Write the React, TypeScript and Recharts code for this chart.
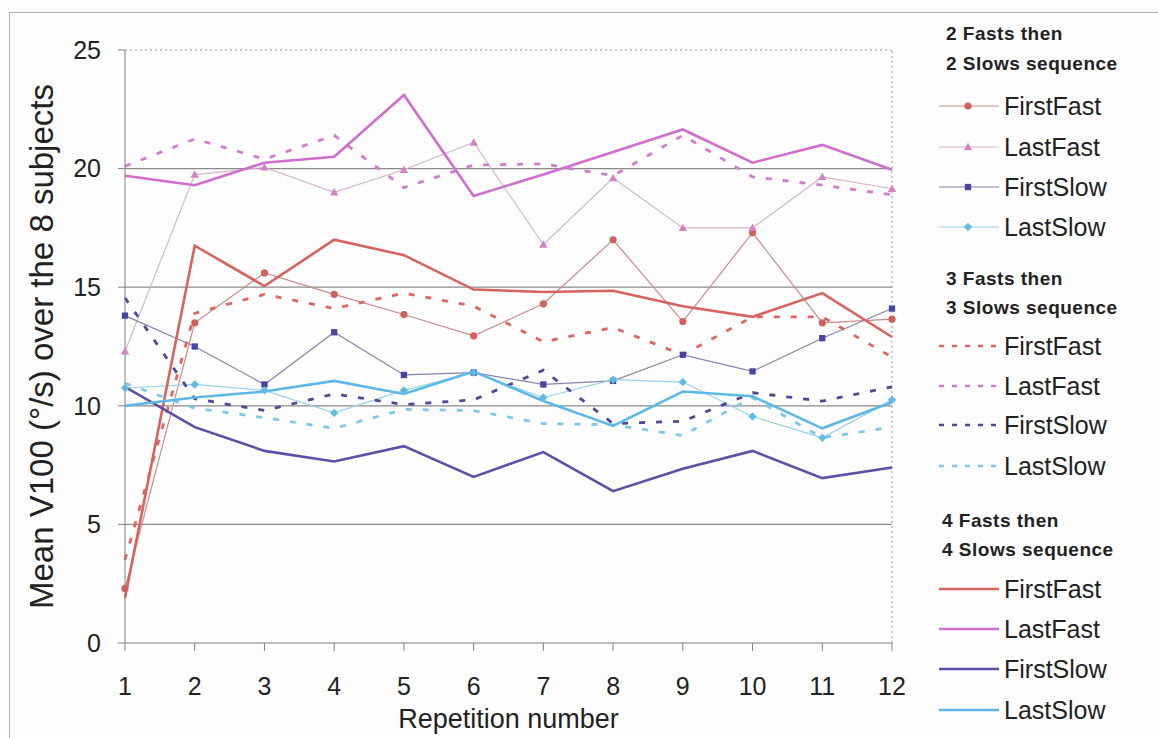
import React from 'react';
import { LineChart, Line, XAxis, YAxis, ReferenceLine, Legend, Label } from 'recharts';

// Repetition numbers on the x axis
const repetitions = [1, 2, 3, 4, 5, 6, 7, 8, 9, 10, 11, 12];

// 2 Fasts then 2 Slows sequence
const firstFast2 = [2.3, 13.5, 15.6, 14.7, 13.85, 12.95, 14.3, 17.0, 13.55, 17.3, 13.5, 13.65];
const lastFast2 = [12.3, 19.75, 20.05, 19.0, 19.95, 21.1, 16.8, 19.6, 17.5, 17.5, 19.65, 19.15];
const firstSlow2 = [13.8, 12.5, 10.9, 13.1, 11.3, 11.4, 10.9, 11.05, 12.15, 11.45, 12.85, 14.1];
const lastSlow2 = [10.75, 10.9, 10.65, 9.7, 10.65, 11.4, 10.35, 11.1, 11.0, 9.55, 8.65, 10.25];

// 3 Fasts then 3 Slows sequence
const firstFast3 = [3.5, 13.9, 14.7, 14.1, 14.75, 14.2, 12.7, 13.3, 12.15, 13.75, 13.75, 12.05];
const lastFast3 = [20.1, 21.25, 20.4, 21.4, 19.2, 20.15, 20.2, 19.7, 21.4, 19.65, 19.3, 18.9];
const firstSlow3 = [14.55, 10.3, 9.8, 10.5, 10.05, 10.25, 11.5, 9.25, 9.35, 10.55, 10.2, 10.8];
const lastSlow3 = [10.95, 9.9, 9.5, 9.05, 9.85, 9.8, 9.25, 9.2, 8.75, 10.35, 8.65, 9.1];

// 4 Fasts then 4 Slows sequence
const firstFast4 = [1.9, 16.75, 15.05, 17.0, 16.35, 14.9, 14.8, 14.85, 14.2, 13.75, 14.75, 12.9];
const lastFast4 = [19.7, 19.3, 20.25, 20.5, 23.1, 18.85, 19.75, 20.7, 21.65, 20.25, 21.0, 19.95];
const firstSlow4 = [10.8, 9.1, 8.1, 7.65, 8.3, 7.0, 8.05, 6.4, 7.35, 8.1, 6.95, 7.4];
const lastSlow4 = [10.0, 10.35, 10.6, 11.05, 10.5, 11.45, 10.2, 9.15, 10.6, 10.4, 9.05, 10.15];

const yTicks = [0, 5, 10, 15, 20, 25];
const gridValues = [5, 10, 15, 20];

const FONT = "'Liberation Sans', Arial, Helvetica, sans-serif";

type Marker = 'circle' | 'triangle' | 'square' | 'diamond' | null;

interface SeriesDef {
  key: string;
  name: string;
  values: number[];
  color: string;
  width: number;
  dash?: string;
  marker: Marker;
  markerColor?: string;
}

interface Group {
  title: [string, string];
  series: SeriesDef[];
}

const groups: Group[] = [
  {
    title: ['2 Fasts then', '2 Slows sequence'],
    series: [
      { key: 'ff2', name: 'FirstFast', values: firstFast2, color: '#cc8a8a', width: 1.2, marker: 'circle', markerColor: '#d0605a' },
      { key: 'lf2', name: 'LastFast', values: lastFast2, color: '#d8b4cc', width: 1.2, marker: 'triangle', markerColor: '#d482c4' },
      { key: 'fs2', name: 'FirstSlow', values: firstSlow2, color: '#8484b0', width: 1.2, marker: 'square', markerColor: '#4646a2' },
      { key: 'ls2', name: 'LastSlow', values: lastSlow2, color: '#98d2ea', width: 1.2, marker: 'diamond', markerColor: '#62bae4' },
    ],
  },
  {
    title: ['3 Fasts then', '3 Slows sequence'],
    series: [
      { key: 'ff3', name: 'FirstFast', values: firstFast3, color: '#de6660', width: 2.8, dash: '6 11', marker: null },
      { key: 'lf3', name: 'LastFast', values: lastFast3, color: '#d27ccf', width: 2.8, dash: '6 11', marker: null },
      { key: 'fs3', name: 'FirstSlow', values: firstSlow3, color: '#4c4a98', width: 2.8, dash: '6 11', marker: null },
      { key: 'ls3', name: 'LastSlow', values: lastSlow3, color: '#7cc8ec', width: 2.8, dash: '6 11', marker: null },
    ],
  },
  {
    title: ['4 Fasts then', '4 Slows sequence'],
    series: [
      { key: 'ff4', name: 'FirstFast', values: firstFast4, color: '#d8625c', width: 2.6, marker: null },
      { key: 'lf4', name: 'LastFast', values: lastFast4, color: '#d06ecf', width: 2.6, marker: null },
      { key: 'fs4', name: 'FirstSlow', values: firstSlow4, color: '#5a50a6', width: 2.6, marker: null },
      { key: 'ls4', name: 'LastSlow', values: lastSlow4, color: '#5eb8e6', width: 2.6, marker: null },
    ],
  },
];

const allSeries = groups.flatMap((g) => g.series);

const chartData = repetitions.map((rep, i) => {
  const row: Record<string, number> = { rep };
  allSeries.forEach((s) => {
    row[s.key] = s.values[i];
  });
  return row;
});

function markerPath(kind: Marker, cx: number, cy: number, s: number): string {
  switch (kind) {
    case 'triangle':
      return `M${cx},${cy - s}L${cx + s},${cy + s * 0.75}L${cx - s},${cy + s * 0.75}Z`;
    case 'square':
      return `M${cx - s * 0.75},${cy - s * 0.75}h${s * 1.5}v${s * 1.5}h${-s * 1.5}Z`;
    case 'diamond':
      return `M${cx},${cy - s}L${cx + s},${cy}L${cx},${cy + s}L${cx - s},${cy}Z`;
    default:
      return '';
  }
}

function MarkerGlyph({ kind, cx, cy, color }: { kind: Marker; cx: number; cy: number; color: string }) {
  if (!kind) return null;
  if (kind === 'circle') return <circle cx={cx} cy={cy} r={3.6} fill={color} />;
  return <path d={markerPath(kind, cx, cy, 4.2)} fill={color} />;
}

const makeDot = (s: SeriesDef) => (props: any) => {
  const { cx, cy, index } = props;
  if (cx == null || cy == null) return <g key={`${s.key}-${index}`} />;
  return (
    <g key={`${s.key}-${index}`}>
      <MarkerGlyph kind={s.marker} cx={cx} cy={cy} color={s.markerColor || s.color} />
    </g>
  );
};

// Row centres (px from the top of the chart) for the grouped legend
const titleRows = [
  [34, 64],
  [279, 308],
  [521, 550],
];
const itemRows = [
  [106, 147, 187, 227],
  [346, 386, 425, 466],
  [589, 629, 669, 710],
];
const titleLeft = [946, 946, 942];

function GroupedLegend() {
  const rowH = 30;
  return (
    <div style={{ position: 'absolute', left: 0, top: 0, width: 1158, height: 738, fontFamily: FONT }}>
      {groups.map((g, gi) => (
        <React.Fragment key={gi}>
          {g.title.map((t, ti) => (
            <div
              key={`t${ti}`}
              style={{
                position: 'absolute',
                left: titleLeft[gi],
                top: titleRows[gi][ti] - rowH / 2,
                height: rowH,
                lineHeight: `${rowH}px`,
                fontSize: 19,
                fontWeight: 700,
                letterSpacing: 0.5,
                color: '#222',
                whiteSpace: 'nowrap',
              }}
            >
              {t}
            </div>
          ))}
          {g.series.map((s, si) => {
            const cy = itemRows[gi][si];
            return (
              <React.Fragment key={s.key}>
                <svg
                  width={62}
                  height={14}
                  style={{ position: 'absolute', left: 938, top: cy - 7, overflow: 'visible' }}
                >
                  <line
                    x1={1}
                    x2={61}
                    y1={7}
                    y2={7}
                    stroke={s.color}
                    strokeWidth={s.dash ? 2.4 : s.width}
                    strokeDasharray={s.dash ? '5 8' : undefined}
                  />
                  <MarkerGlyph kind={s.marker} cx={30} cy={7} color={s.markerColor || s.color} />
                </svg>
                <div
                  style={{
                    position: 'absolute',
                    left: 1004,
                    top: cy - rowH / 2,
                    height: rowH,
                    lineHeight: `${rowH}px`,
                    fontSize: 25,
                    color: '#222',
                    whiteSpace: 'nowrap',
                  }}
                >
                  {s.name}
                </div>
              </React.Fragment>
            );
          })}
        </React.Fragment>
      ))}
    </div>
  );
}

const YTitle = (props: any) => {
  const vb = props.viewBox || { x: 0, y: 0, width: 125, height: 593 };
  const x = vb.x + 41;
  const y = vb.y + vb.height / 2;
  return (
    <text
      x={x}
      y={y}
      transform={`rotate(-90, ${x}, ${y})`}
      textAnchor="middle"
      dominantBaseline="central"
      fontSize={33}
      fontFamily={FONT}
      fill="#222"
    >
      Mean V100 (°/s) over the 8 subjects
    </text>
  );
};

export default function App() {
  return (
    <div
      style={{
        position: 'absolute',
        left: 0,
        top: 0,
        width: 1158,
        height: 738,
        overflow: 'hidden',
        background: '#fdfdfd',
      }}
    >
      <div
        style={{
          position: 'absolute',
          left: 9,
          top: 12,
          width: 1200,
          height: 800,
          borderLeft: '1px solid #b0b0b0',
          borderTop: '1px solid #b0b0b0',
        }}
      />
      <div style={{ position: 'absolute', left: 0, top: 0 }}>
        <LineChart
          width={1158}
          height={738}
          data={chartData}
          margin={{ top: 50, right: 266, bottom: 0, left: 0 }}
        >
          {gridValues.map((v) => (
            <ReferenceLine key={`g${v}`} y={v} stroke="#8a8a8a" strokeWidth={1.2} />
          ))}
          <ReferenceLine y={25} stroke="#9a9a9a" strokeDasharray="2 3" />
          <ReferenceLine x={12} stroke="#9a9a9a" strokeDasharray="2 3" />
          <XAxis
            dataKey="rep"
            type="number"
            domain={[1, 12]}
            ticks={repetitions}
            height={95}
            stroke="#808080"
            tickSize={8}
            tickMargin={26}
            tick={{ fontSize: 25, fontFamily: FONT, fill: '#222' }}
            interval={0}
            allowDecimals={false}
          >
            <Label
              value="Repetition number"
              position="insideBottom"
              offset={10}
              style={{ fontSize: 27, fontFamily: FONT, fill: '#222' }}
            />
          </XAxis>
          <YAxis
            domain={[0, 25]}
            ticks={yTicks}
            width={125}
            stroke="#808080"
            tickSize={7}
            tickMargin={17}
            tick={{ fontSize: 25, fontFamily: FONT, fill: '#222' }}
            interval={0}
          >
            <Label content={YTitle} />
          </YAxis>
          {allSeries.map((s) => (
            <Line
              key={s.key}
              type="linear"
              dataKey={s.key}
              name={s.name}
              stroke={s.color}
              strokeWidth={s.width}
              strokeDasharray={s.dash}
              dot={s.marker ? makeDot(s) : false}
              activeDot={false}
              isAnimationActive={false}
            />
          ))}
          <Legend
            content={() => <GroupedLegend />}
            layout="vertical"
            align="center"
            verticalAlign="middle"
            wrapperStyle={{ left: 0, top: 0, width: 1158, height: 738, pointerEvents: 'none' }}
          />
        </LineChart>
      </div>
    </div>
  );
}
